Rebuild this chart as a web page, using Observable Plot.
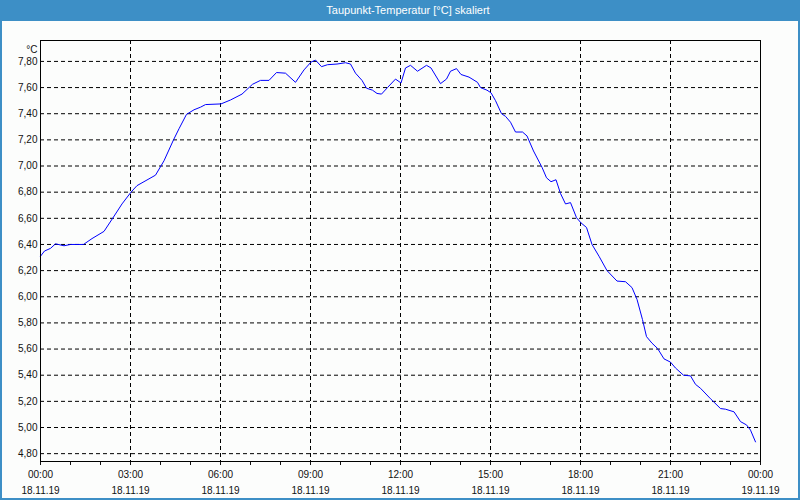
<!DOCTYPE html>
<html><head><meta charset="utf-8">
<script src="https://cdn.jsdelivr.net/npm/d3@7"></script>
<script src="https://cdn.jsdelivr.net/npm/@observablehq/plot@0.6"></script>
<style>
body{margin:0;background:#fff;}
#wrap{position:relative;width:800px;height:500px;background:#fcfdfc;overflow:hidden;font-family:"Liberation Sans",sans-serif;}
#title{position:absolute;left:0;top:0;width:800px;height:21px;background:#3d8fc6;color:#fff;font-size:11px;line-height:21px;text-align:center;padding-left:16px;box-sizing:border-box;}
#chart{position:absolute;left:0;top:21px;}
#border{position:absolute;left:0;top:21px;width:800px;height:479px;box-sizing:border-box;border:2px solid #3d8fc6;border-top:none;pointer-events:none;}
</style></head><body>
<div id="wrap"><div id="title">Taupunkt-Temperatur [°C] skaliert</div><div id="chart"></div><div id="border"></div></div>
<script>
const day = "2019-11-18";
const times = ["00:00","00:08","00:20","00:30","00:47","01:00","01:26","01:43","02:07","02:26","02:43","03:01","03:13","03:50","04:07","04:26","04:37","04:52","05:07","05:20","05:30","06:01","06:20","06:43","07:04","07:20","07:37","07:52","08:10","08:30","08:47","09:01","09:10","09:22","09:34","09:53","10:10","10:20","10:30","10:43","10:52","11:04","11:13","11:22","11:34","11:50","12:01","12:10","12:20","12:34","12:52","13:01","13:20","13:32","13:40","13:52","14:01","14:17","14:34","14:40","14:53","15:01","15:10","15:22","15:30","15:40","15:50","16:04","16:13","16:26","16:43","16:52","17:01","17:11","17:20","17:30","17:40","17:52","18:01","18:12","18:23","18:37","18:53","19:13","19:30","19:43","19:53","20:04","20:12","20:23","20:34","20:47","21:00","21:10","21:26","21:40","21:50","22:00","22:20","22:40","22:50","23:07","23:20","23:32","23:40","23:50"];
const values = [6.31,6.35,6.37,6.405,6.39,6.40,6.40,6.445,6.50,6.61,6.71,6.80,6.85,6.93,7.04,7.20,7.285,7.395,7.43,7.45,7.47,7.475,7.505,7.55,7.625,7.655,7.655,7.715,7.71,7.64,7.735,7.795,7.81,7.76,7.775,7.78,7.79,7.78,7.71,7.655,7.595,7.58,7.555,7.55,7.60,7.665,7.635,7.75,7.77,7.725,7.77,7.75,7.63,7.665,7.725,7.745,7.70,7.68,7.64,7.60,7.58,7.56,7.50,7.40,7.38,7.335,7.26,7.26,7.23,7.115,6.99,6.91,6.88,6.895,6.79,6.71,6.72,6.605,6.565,6.53,6.40,6.31,6.20,6.12,6.115,6.07,5.98,5.825,5.695,5.645,5.605,5.525,5.50,5.455,5.40,5.395,5.33,5.30,5.22,5.145,5.14,5.12,5.045,5.02,4.98,4.89];
const xTickStamps = ["2019-11-18T00:00","2019-11-18T03:00","2019-11-18T06:00","2019-11-18T09:00","2019-11-18T12:00","2019-11-18T15:00","2019-11-18T18:00","2019-11-18T21:00","2019-11-19T00:00"];
const yTicks = [4.8,5.0,5.2,5.4,5.6,5.8,6.0,6.2,6.4,6.6,6.8,7.0,7.2,7.4,7.6,7.8];
const yUnit = ["°C"];

const parse = s => new Date(s + ":00Z");
const data = times.map((t, i) => ({time: parse(`${day}T${t}`), value: values[i]}));
const xTicks = xTickStamps.map(parse);
const start = xTicks[0], end = xTicks[xTicks.length - 1];
const hourTicks = d3.utcHour.range(start, d3.utcHour.offset(end, 1));
const fmtNum = d => d.toFixed(2).replace(".", ",");

const chart = Plot.plot({
  width: 800,
  height: 479,
  marginTop: 19,
  marginBottom: 39,
  marginLeft: 40,
  marginRight: 40,
  style: {fontFamily: "Liberation Sans, sans-serif", fontSize: "10px", background: "transparent", color: "#111"},
  x: {type: "utc", domain: [start, end]},
  y: {domain: [4.74, 7.96]},
  marks: [
    Plot.gridY(yTicks, {stroke: "black", strokeOpacity: 1, strokeDasharray: "4,3"}),
    Plot.gridX(xTicks.slice(1, -1), {stroke: "black", strokeOpacity: 1, strokeDasharray: "4,3"}),
    Plot.axisY(yTicks, {tickSize: 0, tickPadding: 3, tickFormat: fmtNum, label: null}),
    Plot.axisX(hourTicks, {tickSize: 4, tickFormat: () => "", label: null}),
    Plot.axisX(xTicks, {tickSize: 0, tickPadding: 9, tickFormat: d3.utcFormat("%H:%M"), label: null}),
    Plot.axisX(xTicks, {tickSize: 0, tickPadding: 25, tickFormat: d3.utcFormat("%d.%m.%y"), label: null}),
    Plot.text(yUnit, {frameAnchor: "top-left", dx: -3, dy: 5, textAnchor: "end", fill: "#111"}),
    Plot.lineY(data, {x: "time", y: "value", stroke: "#0000ff", strokeWidth: 1}),
    Plot.frame({stroke: "black"})
  ]
});
document.getElementById("chart").appendChild(chart);
</script>
</body></html>
